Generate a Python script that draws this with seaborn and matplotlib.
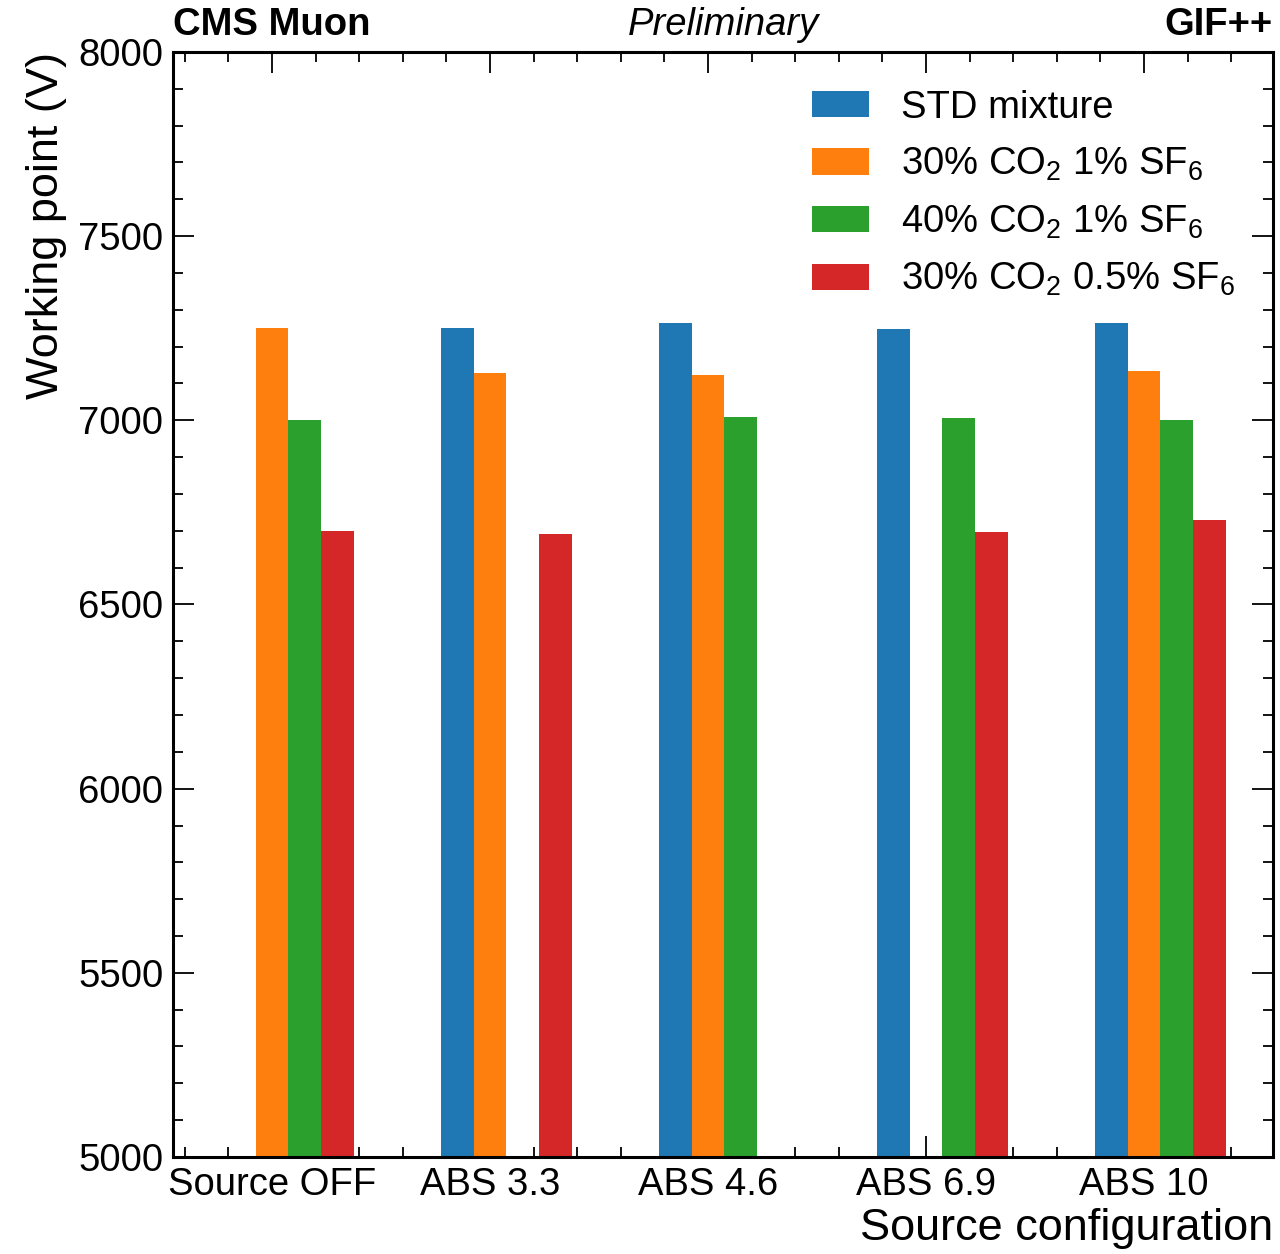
import numpy as np
import pandas as pd
import matplotlib
matplotlib.use('Agg')
import matplotlib.pyplot as plt
import seaborn as sns
from matplotlib.ticker import MultipleLocator

sns.set_style('ticks')
plt.rcParams.update({'font.family': ['Liberation Sans', 'DejaVu Sans'],
                     'mathtext.default': 'regular',
                     'font.size': 27.5,
                     'text.color': 'black', 'axes.labelcolor': 'black',
                     'axes.edgecolor': 'black', 'xtick.color': 'black', 'ytick.color': 'black'})

configs = ['Source OFF', 'ABS 3.3', 'ABS 4.6', 'ABS 6.9', 'ABS 10']
mixtures = ['STD mixture', r'30% CO$_2$ 1% SF$_6$', r'40% CO$_2$ 1% SF$_6$', r'30% CO$_2$ 0.5% SF$_6$']
std_mix = [np.nan, 7250, 7265, 7248, 7265]
co2_30_sf6_1 = [7250, 7128, 7124, np.nan, 7135]
co2_40_sf6_1 = [7000, np.nan, 7009, 7006, 7000]
co2_30_sf6_05 = [6700, 6691, np.nan, 6697, 6730]
colors = ['#1f77b4', '#ff7f0e', '#2ca02c', '#d62728']

rows = []
for mix, vals in zip(mixtures, [std_mix, co2_30_sf6_1, co2_40_sf6_1, co2_30_sf6_05]):
    for cfg, v in zip(configs, vals):
        rows.append({'config': cfg, 'mixture': mix, 'wp': v})
df = pd.DataFrame(rows).dropna()

fig = plt.figure(figsize=(12.8, 12.54), dpi=100)
ax = fig.add_axes([173/1280, 1 - 1157/1254, 1100/1280, 1105/1254])
sns.barplot(data=df, x='config', y='wp', hue='mixture', order=configs, hue_order=mixtures,
            palette=colors, width=0.6, gap=0, errorbar=None, linewidth=0, saturation=1, ax=ax)

# ticks sit on the second bar of each group
off = -0.075
ax.set_xticks(np.arange(len(configs)) + off)
ax.set_xticklabels(configs)
ax.xaxis.set_minor_locator(MultipleLocator(0.2, offset=off))
ax.set_xlim(-0.529, 4.517)
ax.set_ylim(5000, 8000)
ax.yaxis.set_major_locator(MultipleLocator(500))
ax.yaxis.set_minor_locator(MultipleLocator(100))
ax.tick_params(which='both', direction='in', top=True, right=True, labelsize=27.5, width=1.3)
ax.tick_params(which='major', length=15, pad=7)
ax.tick_params(which='minor', length=7)
for s in ax.spines.values():
    s.set_linewidth(2.2)

ax.set_xlabel('Source configuration', fontsize=32.5, ha='right', x=1.0, labelpad=4)
ax.set_ylabel('Working point (V)', fontsize=32.5, ha='right', y=1.0, labelpad=8)

ax.text(0, 1.008, 'CMS Muon', transform=ax.transAxes, fontsize=27.5, fontweight='bold', va='bottom', ha='left')
ax.text(0.5, 1.008, 'Preliminary', transform=ax.transAxes, fontsize=27.5, style='italic', va='bottom', ha='center')
ax.text(1, 1.008, 'GIF++', transform=ax.transAxes, fontsize=27.5, fontweight='bold', va='bottom', ha='right')

ax.legend(loc='upper right', bbox_to_anchor=(0.997, 0.997), frameon=False, fontsize=27.5,
          handlelength=1.5, handleheight=0.68, handletextpad=0.84, labelspacing=0.53)

fig.savefig('out.png', dpi=100)
